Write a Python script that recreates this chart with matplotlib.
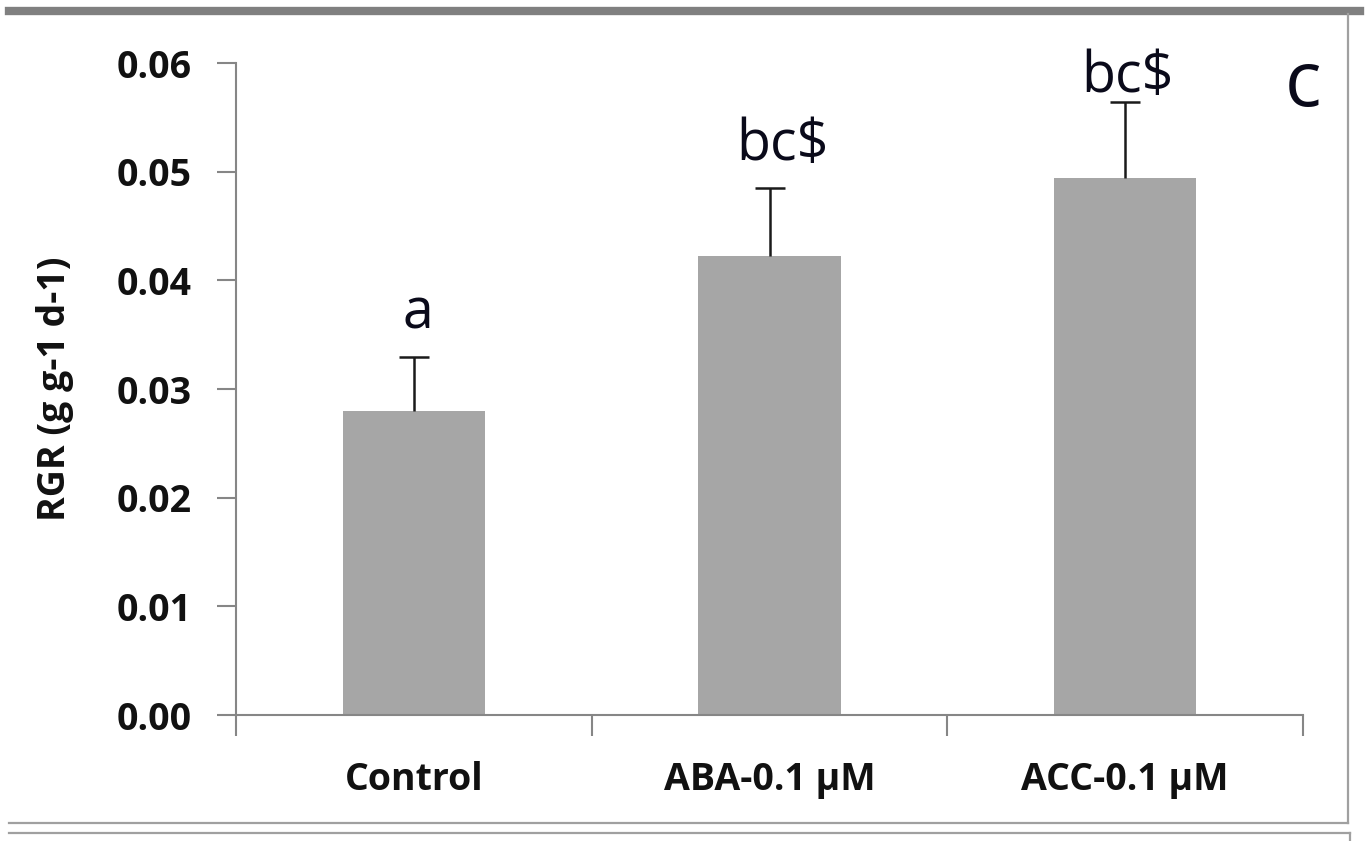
import matplotlib
matplotlib.use("Agg")
import matplotlib.pyplot as plt
from matplotlib.lines import Line2D

# data
categories = ["Control", "ABA-0.1 µM", "ACC-0.1 µM"]
rgr = [0.0280, 0.0422, 0.0494]
rgr_err = [0.0049, 0.0063, 0.0070]
letters = ["a", "bc$", "bc$"]
letter_y = [0.0356, 0.0511, 0.0573]
letter_dx = [0.012, 0.035, 0.005]
y_ticks = [0.00, 0.01, 0.02, 0.03, 0.04, 0.05, 0.06]

W, H = 1366, 841
fig = plt.figure(figsize=(W / 100, H / 100), dpi=100)
ax = fig.add_axes([236 / W, 126 / H, 1067 / W, 652 / H])

x = list(range(len(categories)))
ax.bar(x, rgr, width=0.4, color="#a6a6a6", zorder=2)
eb = ax.errorbar(x, rgr, yerr=[[0] * len(rgr), rgr_err], fmt="none",
                 ecolor="#1a1a1a", elinewidth=1.8, capsize=11, capthick=1.8,
                 zorder=3)
# upper error bar only: hide the lower caps
eb.lines[1][0].set_visible(False)

for xi, dx, yy, txt in zip(x, letter_dx, letter_y, letters):
    ax.text(xi + dx, yy, txt, ha="center", va="baseline", fontsize=40,
            family="Open Sans", color="#0a0a1a")
ax.text(2.5, 0.0560, "c", ha="center", va="baseline", fontsize=55,
        family="Open Sans", color="#0a0a1a")

ax.set_xlim(-0.5, 2.5)
ax.set_ylim(0, 0.06)
ax.set_yticks(y_ticks)
ax.set_yticklabels([f"{v:.2f}" for v in y_ticks])
ax.set_xticks(x)
ax.set_xticklabels(categories)
ax.set_xticks([-0.5, 0.5, 1.5, 2.5], minor=True)

for lab in ax.get_xticklabels() + ax.get_yticklabels():
    lab.set_family("Open Sans")
    lab.set_fontweight("bold")
    lab.set_color("#111111")
for lab in ax.get_yticklabels():
    lab.set_fontsize(27)
for lab in ax.get_xticklabels():
    lab.set_fontsize(27)

ax.tick_params(axis="x", which="major", length=0, pad=33)
ax.tick_params(axis="x", which="minor", length=15, width=1.5, color="#868686",
               direction="out")
ax.tick_params(axis="y", length=14, width=1.5, color="#868686", pad=18)

for s in ("top", "right"):
    ax.spines[s].set_visible(False)
for s in ("left", "bottom"):
    ax.spines[s].set_color("#868686")
    ax.spines[s].set_linewidth(1.5)

ax.set_ylabel("RGR (g g-1 d-1)", family="Open Sans", fontweight="bold",
              fontsize=27, color="#111111")
ax.yaxis.set_label_coords(-0.152, 0.5)


# frame lines around the chart area (pixel coords from the top-left)
def frame_line(x0, y0, x1, y1, lw, color):
    fig.add_artist(Line2D([x0 / W, x1 / W], [1 - y0 / H, 1 - y1 / H],
                          transform=fig.transFigure, lw=lw, color=color))


frame_line(9, 11, 1360, 11, 6, "#808080")
frame_line(1348, 14, 1348, 823, 1.6, "#a0a0a0")
frame_line(9, 823, 1348, 823, 1.6, "#a0a0a0")
frame_line(9, 833, 1350, 833, 1.6, "#a0a0a0")
frame_line(1350, 833, 1350, 841, 1.6, "#a0a0a0")

fig.savefig("out.png", dpi=100)
